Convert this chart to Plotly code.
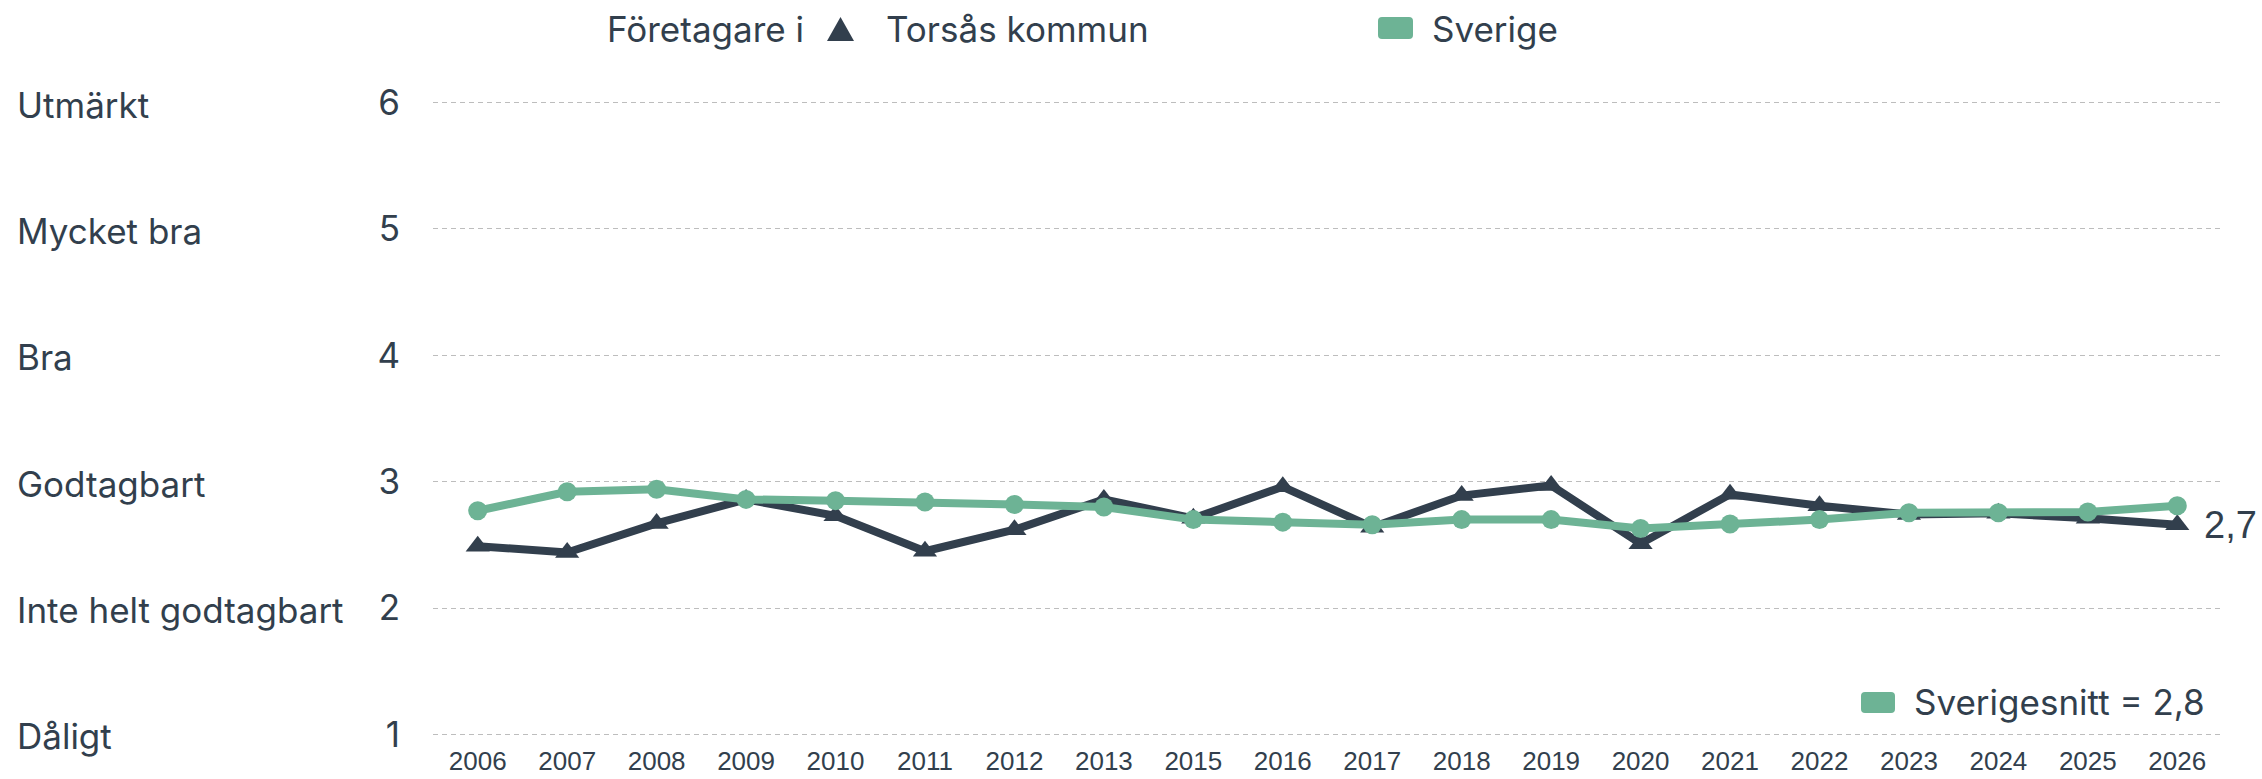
import plotly.graph_objects as go

# ---------------- data ----------------
years = ["2006", "2007", "2008", "2009", "2010", "2011", "2012", "2013",
         "2015", "2016", "2017", "2018", "2019", "2020", "2021", "2022",
         "2023", "2024", "2025", "2026"]
torsas = [2.49, 2.44, 2.67, 2.86, 2.73, 2.45, 2.62, 2.86,
          2.71, 2.96, 2.64, 2.89, 2.97, 2.51, 2.90, 2.81,
          2.74, 2.75, 2.71, 2.66]
sverige = [2.77, 2.92, 2.94, 2.86, 2.85, 2.84, 2.82, 2.80,
           2.70, 2.68, 2.66, 2.70, 2.70, 2.63, 2.665, 2.70,
           2.755, 2.755, 2.76, 2.81]
level_values = [1, 2, 3, 4, 5, 6]
level_labels = ["Dåligt", "Inte helt godtagbart", "Godtagbart", "Bra",
                "Mycket bra", "Utmärkt"]
sverige_avg = 2.8
legend_title = "Företagare i"
name_torsas = "Torsås kommun"
name_sverige = "Sverige"

# ---------------- style ----------------
DARK = "#323f4d"
GREEN = "#6db395"
GRID = "#bdbdbd"
FONT = "Inter, Noto Sans, sans-serif"
NUMFONT = "Liberation Sans, Arial, sans-serif"
TXT = 35

W, H = 2262, 779
L, R, T, B = 433, 40, 100, 42
PW, PH = W - L - R, H - T - B


def xp(px):
    return (px - L) / PW


def yp(py):
    return (H - B - py) / PH


def rrect(x0, y0, x1, y1, r=4):
    # rounded rectangle path in paper coords from pixel box
    rx, ry = r / PW, r / PH
    X0, X1 = xp(x0), xp(x1)
    Y0, Y1 = yp(y1), yp(y0)  # bottom, top
    return (f"M {X0+rx},{Y1} L {X1-rx},{Y1} Q {X1},{Y1} {X1},{Y1-ry} "
            f"L {X1},{Y0+ry} Q {X1},{Y0} {X1-rx},{Y0} L {X0+rx},{Y0} "
            f"Q {X0},{Y0} {X0},{Y0+ry} L {X0},{Y1-ry} Q {X0},{Y1} {X0+rx},{Y1} Z")


fig = go.Figure()

fig.add_trace(go.Scatter(
    x=years, y=torsas, name=name_torsas, mode="lines+markers",
    line=dict(color=DARK, width=8),
    marker=dict(symbol="triangle-up", size=21, color=DARK),
    showlegend=False, cliponaxis=False))

fig.add_trace(go.Scatter(
    x=years, y=sverige, name=name_sverige, mode="lines+markers",
    line=dict(color=GREEN, width=8),
    marker=dict(symbol="circle", size=19, color=GREEN),
    showlegend=False, cliponaxis=False))

annotations = []
# level word labels
for v, lab in zip(level_values, level_labels):
    annotations.append(dict(
        xref="paper", yref="y", x=xp(15), y=v, text=lab, showarrow=False,
        xanchor="left", yanchor="middle", yshift=-2,
        font=dict(family=FONT, size=TXT, color=DARK)))

# end-value label
last_txt = f"{torsas[-1]:.1f}".replace(".", ",")
annotations.append(dict(
    xref="x", yref="y", x=len(years) - 1, y=torsas[-1], text=last_txt,
    showarrow=False, xanchor="left", yanchor="middle", xshift=25,
    font=dict(family=NUMFONT, size=38, color=DARK)))

# top legend texts
annotations += [
    dict(xref="paper", yref="paper", x=xp(605), y=yp(29), text=legend_title,
         showarrow=False, xanchor="left", yanchor="middle",
         font=dict(family=FONT, size=TXT, color=DARK)),
    dict(xref="paper", yref="paper", x=xp(884), y=yp(29), text=name_torsas,
         showarrow=False, xanchor="left", yanchor="middle",
         font=dict(family=FONT, size=TXT, color=DARK)),
    dict(xref="paper", yref="paper", x=xp(1430), y=yp(29), text=name_sverige,
         showarrow=False, xanchor="left", yanchor="middle",
         font=dict(family=FONT, size=TXT, color=DARK)),
    dict(xref="paper", yref="paper", x=xp(1912), y=yp(702),
         text=f"Sverigesnitt = {sverige_avg:.1f}".replace(".", ","),
         showarrow=False, xanchor="left", yanchor="middle",
         font=dict(family=FONT, size=TXT, color=DARK)),
]

shapes = [
    dict(type="path", xref="paper", yref="paper",
         path=f"M {xp(827)},{yp(41)} L {xp(854)},{yp(41)} L {xp(840.5)},{yp(17)} Z",
         fillcolor=DARK, line=dict(width=0)),
    dict(type="path", xref="paper", yref="paper", path=rrect(1378, 17, 1413, 39),
         fillcolor=GREEN, line=dict(width=0)),
    dict(type="path", xref="paper", yref="paper", path=rrect(1861, 692, 1895, 713),
         fillcolor=GREEN, line=dict(width=0)),
]

fig.update_layout(
    width=W, height=H,
    margin=dict(l=L, r=R, t=T, b=B, pad=0, autoexpand=False),
    paper_bgcolor="white", plot_bgcolor="white",
    font=dict(family=FONT, color=DARK),
    annotations=annotations, shapes=shapes,
    showlegend=False,
    xaxis=dict(type="category", categoryorder="array", categoryarray=years,
               range=[-0.5, len(years) - 0.5], showgrid=False, zeroline=False,
               showline=False, ticks="", ticklabelstandoff=6, automargin=False,
               tickfont=dict(family=NUMFONT, size=26, color=DARK)),
    yaxis=dict(range=[0.98, 6.02], tickvals=level_values,
               ticktext=[str(v) for v in level_values], automargin=False,
               showgrid=True, gridcolor=GRID, griddash="5px,4px", gridwidth=1,
               zeroline=False, showline=False, ticks="", ticklabelstandoff=32,
               tickfont=dict(family=FONT, size=TXT, color=DARK)),
)

fig.write_html("out.html", config={"displayModeBar": False},
               post_script="document.body.style.margin='0';document.body.style.padding='0';")
